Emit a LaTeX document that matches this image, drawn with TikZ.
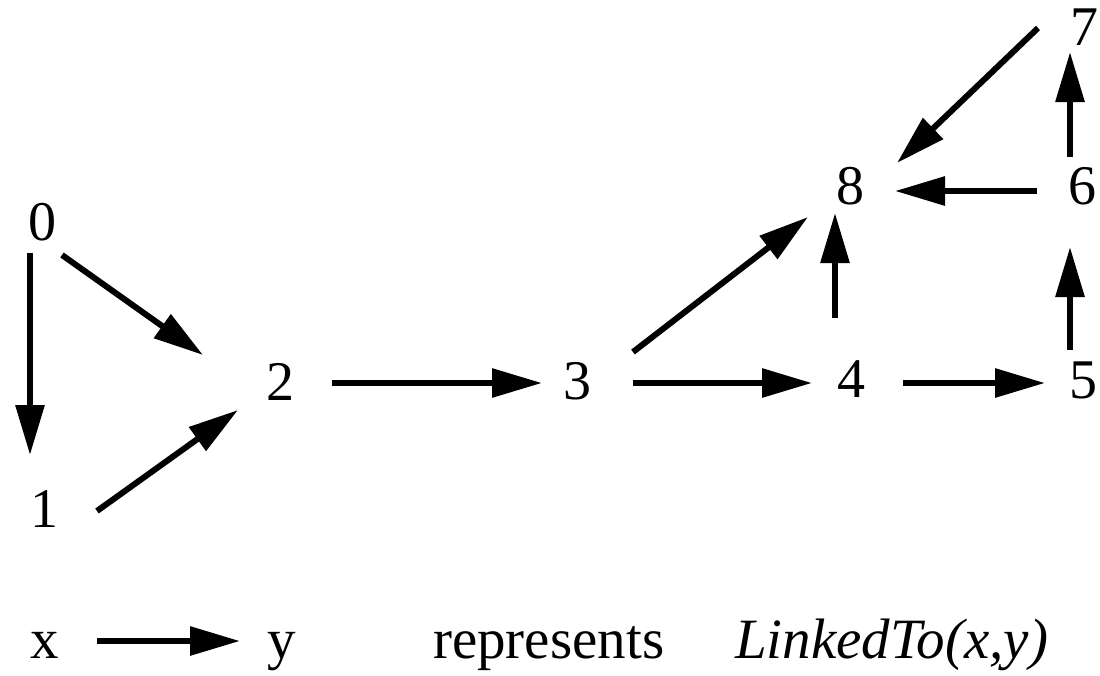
\documentclass[tikz,border=0pt]{standalone}
\usepackage{fontspec}
\setmainfont{Liberation Serif}
\usetikzlibrary{arrows.meta,calc}
\begin{document}
\begin{tikzpicture}[x=1pt,y=-1pt,
  lbl/.style={inner sep=0pt,font=\fontsize{56}{60}\selectfont},
  leg/.style={inner sep=0pt,font=\fontsize{57}{60}\selectfont},
  arr/.style={line width=6pt,-{Triangle[length=50pt,width=28pt]}}]
\useasboundingbox (0,0) rectangle (1100,675);
\node[lbl] (n0) at (42,222) {0};
\node[lbl] (n1) at (44,509) {1};
\node[lbl] (n2) at (280,382) {2};
\node[lbl] (n3) at (577,381) {3};
\node[lbl] (n4) at (851,379) {4};
\node[lbl] (n5) at (1083,380) {5};
\node[lbl] (n6) at (1082,186) {6};
\node[lbl] (n7) at (1084,27) {7};
\node[lbl] (n8) at (850,186) {8};
\draw[arr] ($(n0)+(-12,31)$) -- ($(n1)+(-14,-54)$);
\draw[arr] ($(n0)+(20,33)$) -- ($(n2)+(-77,-27)$);
\draw[arr] ($(n1)+(53,2)$) -- ($(n2)+(-42,28)$);
\draw[arr] ($(n2)+(52,1)$) -- ($(n3)+(-35,2)$);
\draw[arr] ($(n3)+(56,2)$) -- ($(n4)+(-39,4)$);
\draw[arr] ($(n3)+(56,-29)$) -- ($(n8)+(-42,31)$);
\draw[arr] ($(n4)+(52,4)$) -- ($(n5)+(-38,3)$);
\draw[arr] ($(n4)+(-16,-61)$) -- ($(n8)+(-15,27)$);
\draw[arr] ($(n5)+(-13,-30)$) -- ($(n6)+(-12,61)$);
\draw[arr] ($(n6)+(-12,-29)$) -- ($(n7)+(-14,25)$);
\draw[arr] ($(n6)+(-45,5)$) -- ($(n8)+(45,5)$);
\draw[arr] ($(n7)+(-46,1)$) -- ($(n8)+(47,-23)$);
% legend
\node[leg,anchor=base west] (lx) at (30,658) {x};
\node[leg,anchor=base west] (ly) at (267,658) {y};
\node[leg,anchor=base west] (lrep) at (433,658) {represents};
\node[leg,anchor=base west] (llink) at (735,658) {\itshape LinkedTo(x,y)};
\draw[arr] ($(lx.base west)+(67,-17)$) -- ($(ly.base west)+(-27,-17)$);
\end{tikzpicture}
\end{document}
